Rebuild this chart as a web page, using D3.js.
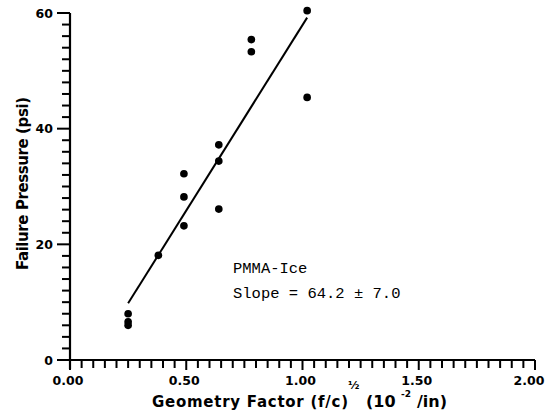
<!DOCTYPE html>
<html>
<head>
<meta charset="utf-8">
<script src="https://cdn.jsdelivr.net/npm/d3@7"></script>
<style>
  body { margin: 0; background: #fff; }
  svg text { fill: #000; }
</style>
</head>
<body>
<svg></svg>
<script>
  // measured points: geometry factor vs failure pressure
  const geomFactor = [0.25, 0.25, 0.25, 0.38, 0.49, 0.49, 0.49, 0.64, 0.64, 0.64, 0.78, 0.78, 1.02, 1.02];
  const pressure   = [8.0, 6.6, 6.0, 18.1, 32.2, 28.2, 23.2, 37.2, 34.4, 26.1, 55.4, 53.3, 60.4, 45.4];

  // fitted line end points
  const fitX = [0.25, 1.02];
  const fitY = [9.8, 59.2];

  const xMajor = [0, 0.5, 1.0, 1.5, 2.0];
  const yMajor = [0, 20, 40, 60];
  const noteLines = ["PMMA-Ice", "Slope = 64.2 \u00b1 7.0"];

  const width = 547, height = 420;
  const mLeft = 70, mRight = 535, mTop = 13, mBottom = 360;

  const svg = d3.select("svg").attr("width", width).attr("height", height);

  const x = d3.scaleLinear().domain([0, 2]).range([mLeft, mRight]);
  const y = d3.scaleLinear().domain([0, 60]).range([mBottom, mTop]);

  const labelFont = "'DejaVu Sans', Verdana, sans-serif";

  // tick marks: minor every 0.05 / 2 psi, longer on labelled values
  const xTicks = d3.range(0, 41).map(i => +(i * 0.05).toFixed(2));
  const yTicks = d3.range(0, 31).map(i => i * 2);

  svg.append("g")
    .selectAll("rect")
    .data(xTicks)
    .join("rect")
    .attr("x", d => x(d) - 1)
    .attr("y", mBottom)
    .attr("width", 2)
    .attr("height", d => xMajor.includes(d) ? 10 : 8)
    .attr("fill", "#000");

  svg.append("g")
    .selectAll("rect")
    .data(yTicks)
    .join("rect")
    .attr("x", d => mLeft - (yMajor.includes(d) ? 13 : 8))
    .attr("y", d => y(d) - 1)
    .attr("width", d => yMajor.includes(d) ? 13 : 8)
    .attr("height", 2)
    .attr("fill", "#000");

  // axis lines
  svg.append("path")
    .attr("d", "M" + (mLeft - 13) + "," + mBottom + "H" + mRight + "M" + mLeft + "," + (mBottom + 9) + "V" + mTop)
    .attr("stroke", "#000")
    .attr("stroke-width", 2.2)
    .attr("fill", "none");

  // tick labels
  svg.append("g")
    .selectAll("text")
    .data(xMajor)
    .join("text")
    .attr("x", (d, i) => x(d) - (i === xMajor.length - 1 ? 6 : 2))
    .attr("y", 385)
    .attr("text-anchor", "middle")
    .attr("font-family", labelFont)
    .attr("font-weight", "bold")
    .attr("font-size", 12.5)
    .text(d3.format(".2f"));

  svg.append("g")
    .selectAll("text")
    .data(yMajor)
    .join("text")
    .attr("x", mLeft - 17)
    .attr("y", d => y(d))
    .attr("dy", "0.36em")
    .attr("text-anchor", "end")
    .attr("font-family", labelFont)
    .attr("font-weight", "bold")
    .attr("font-size", 12.5)
    .text(d3.format("d"));

  // fit line
  svg.append("path")
    .datum(d3.zip(fitX, fitY))
    .attr("d", d3.line().x(d => x(d[0])).y(d => y(d[1])))
    .attr("stroke", "#000")
    .attr("stroke-width", 2)
    .attr("fill", "none");

  // points
  svg.append("g")
    .selectAll("path")
    .data(d3.zip(geomFactor, pressure))
    .join("path")
    .attr("transform", d => "translate(" + x(d[0]) + "," + y(d[1]) + ")")
    .attr("d", d3.symbol().type(d3.symbolCircle).size(46))
    .attr("fill", "#000");

  // annotation
  svg.append("g")
    .selectAll("text")
    .data(noteLines)
    .join("text")
    .attr("x", 233)
    .attr("y", (d, i) => 273 + i * 25)
    .attr("font-family", "'Liberation Mono', 'Courier New', monospace")
    .attr("font-size", 15.5)
    .text(d => d);

  // axis titles
  const titleStyle = sel => sel
    .attr("font-family", labelFont)
    .attr("font-weight", "bold")
    .attr("font-size", 15);

  svg.append("text")
    .attr("transform", "translate(28,270) rotate(-90)")
    .call(titleStyle)
    .attr("lengthAdjust", "spacing")
    .attr("textLength", 173)
    .text("Failure Pressure (psi)");

  svg.append("text").attr("x", 152).attr("y", 407).call(titleStyle)
    .attr("lengthAdjust", "spacing")
    .attr("textLength", 196).text("Geometry Factor (f/c)");
  svg.append("text").attr("x", 348).attr("y", 389).call(titleStyle)
    .attr("font-size", 11).text("\u00bd");
  svg.append("text").attr("x", 366).attr("y", 407).call(titleStyle)
    .attr("font-size", 16).text("(10");
  svg.append("text").attr("x", 401).attr("y", 397).call(titleStyle)
    .attr("font-size", 9).text("-2");
  svg.append("text").attr("x", 417).attr("y", 407).call(titleStyle)
    .attr("font-size", 16).text("/in)");
</script>
</body>
</html>
